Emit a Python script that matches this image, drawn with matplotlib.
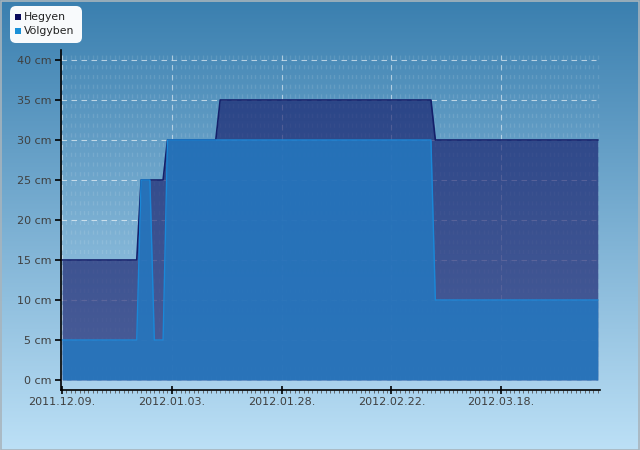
import numpy as np
import matplotlib
matplotlib.use("Agg")
import matplotlib.pyplot as plt
import matplotlib.dates as mdates
from matplotlib.patches import FancyBboxPatch, Rectangle
import datetime as dt

# ---- data (breakpoints) ----
hegyen_dates = ["2011-12-09", "2011-12-26", "2011-12-27", "2012-01-01", "2012-01-02",
                "2012-01-13", "2012-01-14", "2012-03-02", "2012-03-03", "2012-04-09"]
hegyen_vals = [15, 15, 25, 25, 30, 30, 35, 35, 30, 30]

volgyben_dates = ["2011-12-09", "2011-12-26", "2011-12-27", "2011-12-29", "2011-12-30",
                  "2012-01-01", "2012-01-02", "2012-03-02", "2012-03-03", "2012-04-09"]
volgyben_vals = [5, 5, 25, 25, 5, 5, 30, 30, 10, 10]

series_names = ["Hegyen", "Völgyben"]
xtick_dates = ["2011-12-09", "2012-01-03", "2012-01-28", "2012-02-22", "2012-03-18"]
xtick_labels = ["2011.12.09.", "2012.01.03.", "2012.01.28.", "2012.02.22.", "2012.03.18."]
ytick_vals = [0, 5, 10, 15, 20, 25, 30, 35, 40]
ytick_labels = [f"{v} cm" for v in ytick_vals]

def to_num(ds):
    return mdates.date2num([dt.datetime.strptime(d, "%Y-%m-%d") for d in ds])

hx = to_num(hegyen_dates)
vx = to_num(volgyben_dates)

fig = plt.figure(figsize=(6.4, 4.5), dpi=100)

# background gradient (top dark, bottom light)
bg = fig.add_axes([0, 0, 1, 1], zorder=-10)
top = np.array([58, 127, 175]) / 255
bot = np.array([188, 224, 246]) / 255
t = np.linspace(0, 1, 256)[:, None]
grad = top[None, :] * (1 - t) + bot[None, :] * t
bg.imshow(grad[:, None, :], aspect="auto", extent=[0, 1, 0, 1], origin="upper")
bg.set_xlim(0, 1); bg.set_ylim(0, 1)
bg.axis("off")
bg.add_patch(Rectangle((0.0008, 0.001), 0.998, 0.997, transform=bg.transAxes,
                       fill=False, edgecolor="#a8b4bc", linewidth=1.2))

ax = fig.add_axes([61/640, 1 - 390/450, (600-61)/640, (390-50)/450])
ax.patch.set_alpha(0)

x0 = hx[0]
ax.set_xlim(x0 - 0.25, x0 + 122.5)
ax.set_ylim(-1.25, 41.25)

# minor daily vertical dashes (background pattern)
days = np.arange(x0, x0 + 122.1, 1)
for d in days:
    ax.axvline(d, color="white", alpha=0.11, linewidth=1, linestyle=(0, (3, 4)), zorder=0,
               ymin=0.03, ymax=0.985)
# major grid (behind the areas)
for yv in ytick_vals:
    ax.axhline(yv, color="white", alpha=0.6, linewidth=0.8, linestyle=(0, (5, 4)), zorder=0.5,
               xmax=0.993)
for xd in to_num(xtick_dates):
    ax.axvline(xd, color="white", alpha=0.5, linewidth=0.8, linestyle=(0, (5, 4)), zorder=0.5,
               ymin=0.03, ymax=0.985)

ax.fill_between(hx, 0, hegyen_vals, color=(17/255, 22/255, 102/255), alpha=0.62,
                linewidth=0, zorder=1)
ax.plot(hx, hegyen_vals, color="#14206a", linewidth=1.2, zorder=1.5)
ax.fill_between(vx, 0, volgyben_vals, color="#2478c0", alpha=0.85, linewidth=0, zorder=2)
ax.plot(vx, volgyben_vals, color="#1a88d8", linewidth=1.0, zorder=2.5)

for s in ["top", "right"]:
    ax.spines[s].set_visible(False)
for s in ["left", "bottom"]:
    ax.spines[s].set_color("black")
    ax.spines[s].set_linewidth(1.2)

ax.set_yticks(ytick_vals)
ax.set_yticklabels(ytick_labels)
ax.set_xticks(to_num(xtick_dates))
ax.set_xticklabels(xtick_labels)
ax.set_xticks(days, minor=True)
ax.tick_params(axis="both", which="major", labelsize=8, labelcolor="#3f3f3f",
               direction="inout", length=6, width=1.2, color="black")
ax.tick_params(axis="x", which="minor", direction="out", length=2, width=0.6, color="#555555")
ax.tick_params(axis="y", which="major", direction="out", length=4, pad=3)
ax.tick_params(axis="x", which="major", pad=2)

# legend box
lg = fig.add_axes([0, 0, 1, 1], zorder=10)
lg.set_xlim(0, 640); lg.set_ylim(450, 0); lg.axis("off")
lg.add_patch(FancyBboxPatch((10, 6), 72, 37, boxstyle="round,pad=0,rounding_size=6",
                            facecolor="white", edgecolor="none", alpha=0.97))
lg.add_patch(Rectangle((15, 14), 6, 6, facecolor="#0b0b5c", edgecolor="none"))
lg.add_patch(Rectangle((15, 28), 6, 6, facecolor="#1a90d8", edgecolor="none"))
lg.text(24, 17, series_names[0], fontsize=7.8, color="#222222", va="center", ha="left")
lg.text(24, 31, series_names[1], fontsize=7.8, color="#222222", va="center", ha="left")

fig.savefig("out.png", dpi=100)
